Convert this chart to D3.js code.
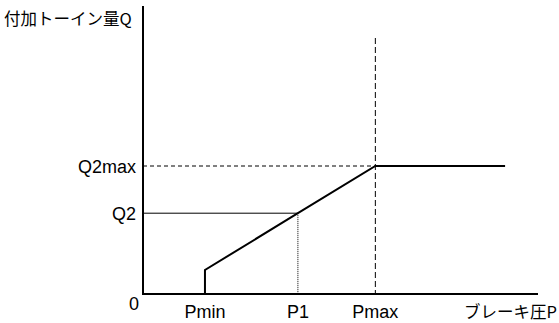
<!DOCTYPE html>
<html>
<head>
<meta charset="utf-8">
<script src="https://cdn.jsdelivr.net/npm/d3@7"></script>
<style>
  body { margin: 0; background: #fff; }
  text { font-family: "Liberation Sans", Arial, sans-serif; font-size: 18px; fill: #000; }
  .jp { font-family: "Noto Sans CJK JP", sans-serif; font-size: 16.5px; }
</style>
</head>
<body>
<svg id="chart"></svg>
<script>
// characteristic curve: brake pressure P -> added toe-in Q
const pressure = [1.6, 1.6, 4, 6, 9.35];
const toeIn = [0, 1.5, 5.05, 8, 8];

// named reference points
const xTicks = [{ name: 'Pmin', value: 1.6 }, { name: 'P1', value: 4 }, { name: 'Pmax', value: 6 }];
const yTicks = [{ name: 'Q2', value: 5.05 }, { name: 'Q2max', value: 8 }];

const width = 559, height = 323;
const svg = d3.select('#chart').attr('width', width).attr('height', height);

// axis domains
const x = d3.scaleLinear().domain([0, 10.2]).range([143, 538]);
const y = d3.scaleLinear().domain([0, 18]).range([294, 6]);

// guide lines first so the curve sits on top
// Q2 horizontal (thin solid) and P1 vertical (thin dotted)
svg.append('line')
    .attr('x1', x(0)).attr('x2', x(4))
    .attr('y1', y(5.05)).attr('y2', y(5.05))
    .attr('stroke', '#000').attr('stroke-width', 1);
svg.append('line')
    .attr('x1', x(4)).attr('x2', x(4))
    .attr('y1', y(5.05)).attr('y2', y(0))
    .attr('stroke', '#000').attr('stroke-width', 1)
    .attr('stroke-dasharray', '1,1');

// Q2max horizontal dashed, Pmax vertical dashed
svg.append('line')
    .attr('x1', x(0)).attr('x2', x(6))
    .attr('y1', y(8)).attr('y2', y(8))
    .attr('stroke', '#000').attr('stroke-width', 1)
    .attr('stroke-dasharray', '4,3');
svg.append('line')
    .attr('x1', x(6)).attr('x2', x(6))
    .attr('y1', y(16)).attr('y2', y(0))
    .attr('stroke', '#000').attr('stroke-width', 1)
    .attr('stroke-dasharray', '6,3');

// axes
svg.append('line')
    .attr('x1', x(0)).attr('x2', x(0))
    .attr('y1', y(18)).attr('y2', y(0))
    .attr('stroke', '#000').attr('stroke-width', 2);
svg.append('line')
    .attr('x1', x(0) - 1).attr('x2', x(10.2))
    .attr('y1', y(0)).attr('y2', y(0))
    .attr('stroke', '#000').attr('stroke-width', 2);

// characteristic line
const line = d3.line()
    .x((d, i) => x(pressure[i]))
    .y((d, i) => y(toeIn[i]));
svg.append('path')
    .datum(pressure)
    .attr('d', line)
    .attr('fill', 'none')
    .attr('stroke', '#000')
    .attr('stroke-width', 2);

// x labels
svg.selectAll('.xlab')
    .data(xTicks)
    .join('text')
    .attr('class', 'xlab')
    .attr('x', d => x(d.value))
    .attr('y', 318)
    .attr('text-anchor', 'middle')
    .text(d => d.name);

// y labels
svg.selectAll('.ylab')
    .data(yTicks)
    .join('text')
    .attr('class', 'ylab')
    .attr('x', 136)
    .attr('y', d => y(d.value) + 7)
    .attr('text-anchor', 'end')
    .text(d => d.name);

svg.append('text').attr('x', 134).attr('y', 310).attr('text-anchor', 'middle').text('0');

// axis titles
svg.append('text').attr('class', 'jp').attr('x', 4).attr('y', 25).text('付加トーイン量Q');
svg.append('text').attr('class', 'jp').attr('x', 557).attr('y', 318).attr('text-anchor', 'end').text('ブレーキ圧P');
</script>
</body>
</html>
